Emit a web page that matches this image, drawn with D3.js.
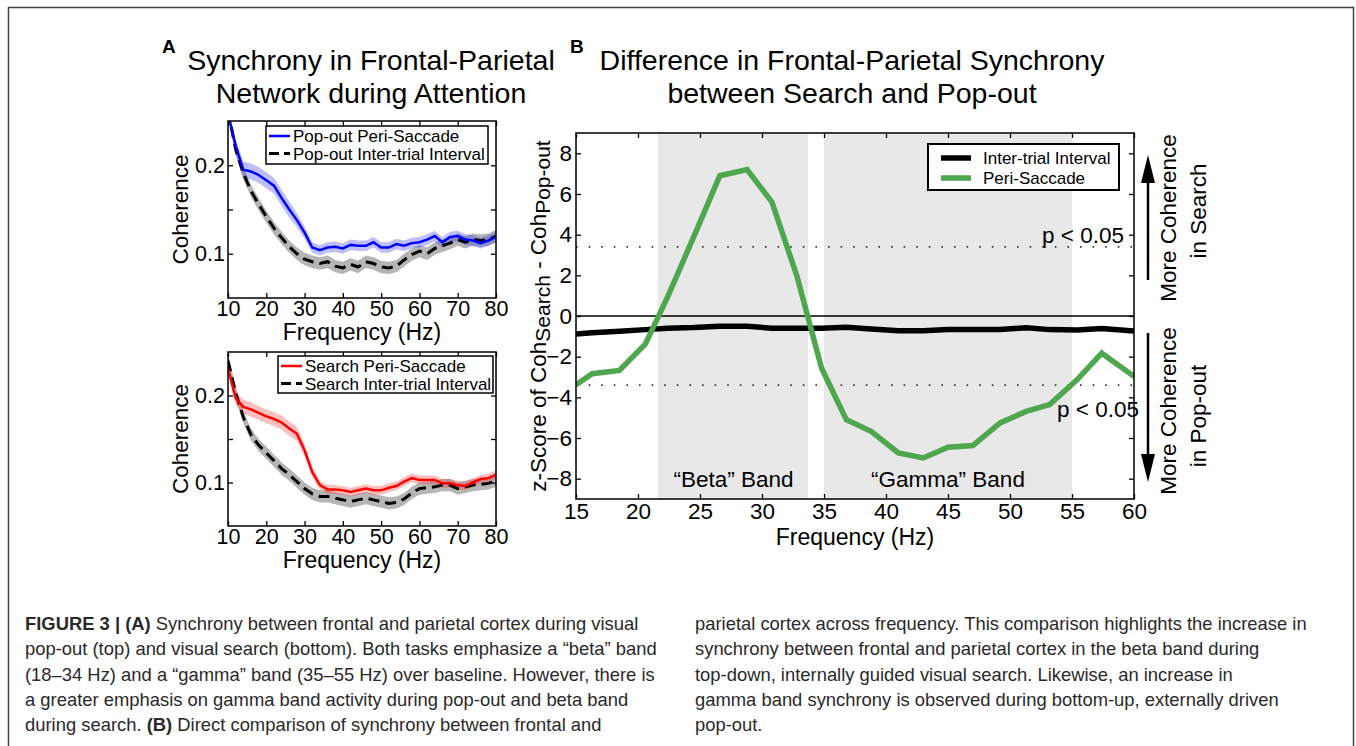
<!DOCTYPE html>
<html>
<head>
<meta charset="utf-8">
<script src="https://cdn.jsdelivr.net/npm/d3@7"></script>
<style>
  body { margin: 0; background: #fff; }
  svg text { font-family: "Liberation Sans", Arial, sans-serif; fill: #000; }
  .caption text { fill: #2b2829; }
</style>
</head>
<body>
<svg id="fig" width="1356" height="746"></svg>
<script>
// ---- panel A data (coherence vs frequency) ----
const freqA = [10, 12, 14, 16, 18, 20, 22, 24, 26, 28, 30, 32, 34, 36, 38, 40, 42, 44,
  46, 48, 50, 52, 54, 56, 58, 60, 62, 64, 66, 68, 70, 72, 74, 76, 78, 80];
const popPeri = [0.258, 0.222, 0.195, 0.193, 0.189, 0.183, 0.177, 0.163, 0.150, 0.138, 0.124, 0.107,
  0.104, 0.107, 0.108, 0.106, 0.110, 0.109, 0.109, 0.113, 0.107, 0.107, 0.111, 0.109,
  0.112, 0.113, 0.116, 0.120, 0.113, 0.119, 0.120, 0.116, 0.115, 0.112, 0.115, 0.119];
const popPeriErr = [0.006, 0.008, 0.009, 0.009, 0.009, 0.009, 0.009, 0.009, 0.009, 0.008, 0.007, 0.006,
  0.006, 0.006, 0.006, 0.006, 0.006, 0.006, 0.006, 0.006, 0.006, 0.006, 0.006, 0.006,
  0.006, 0.006, 0.006, 0.006, 0.006, 0.006, 0.006, 0.006, 0.006, 0.006, 0.006, 0.006];
const popIti = [0.262, 0.218, 0.191, 0.171, 0.156, 0.142, 0.129, 0.118, 0.108, 0.100, 0.094, 0.091,
  0.089, 0.091, 0.086, 0.084, 0.088, 0.085, 0.091, 0.089, 0.085, 0.084, 0.086, 0.093,
  0.099, 0.103, 0.100, 0.106, 0.109, 0.112, 0.116, 0.113, 0.116, 0.115, 0.116, 0.120];
const popItiErr = [0.007, 0.007, 0.007, 0.007, 0.007, 0.007, 0.007, 0.007, 0.007, 0.007, 0.007, 0.007,
  0.007, 0.007, 0.007, 0.007, 0.007, 0.007, 0.007, 0.007, 0.007, 0.007, 0.007, 0.007,
  0.007, 0.007, 0.007, 0.007, 0.007, 0.007, 0.007, 0.007, 0.007, 0.007, 0.007, 0.007];
const searchPeri = [0.231, 0.197, 0.187, 0.184, 0.180, 0.176, 0.173, 0.169, 0.162, 0.156, 0.137, 0.112,
  0.097, 0.092, 0.092, 0.091, 0.089, 0.091, 0.093, 0.091, 0.091, 0.094, 0.096, 0.101,
  0.105, 0.103, 0.103, 0.103, 0.099, 0.099, 0.097, 0.096, 0.100, 0.104, 0.105, 0.109];
const searchPeriErr = [0.006, 0.008, 0.008, 0.008, 0.008, 0.008, 0.008, 0.008, 0.008, 0.008, 0.007, 0.006,
  0.005, 0.005, 0.005, 0.005, 0.005, 0.005, 0.005, 0.005, 0.005, 0.005, 0.005, 0.005,
  0.005, 0.005, 0.005, 0.005, 0.005, 0.005, 0.005, 0.005, 0.005, 0.005, 0.005, 0.005];
const searchIti = [0.240, 0.203, 0.175, 0.155, 0.143, 0.134, 0.125, 0.116, 0.109, 0.101, 0.093, 0.087,
  0.084, 0.084, 0.082, 0.080, 0.078, 0.080, 0.082, 0.080, 0.078, 0.076, 0.077, 0.081,
  0.088, 0.093, 0.094, 0.095, 0.097, 0.097, 0.093, 0.095, 0.097, 0.098, 0.099, 0.102];
const searchItiErr = [0.007, 0.007, 0.007, 0.007, 0.007, 0.007, 0.007, 0.007, 0.007, 0.007, 0.007, 0.007,
  0.007, 0.007, 0.007, 0.007, 0.007, 0.007, 0.007, 0.007, 0.007, 0.007, 0.007, 0.007,
  0.007, 0.007, 0.007, 0.007, 0.007, 0.007, 0.007, 0.007, 0.007, 0.007, 0.007, 0.007];
const ticksA = [10, 20, 30, 40, 50, 60, 70, 80];
const yTicksA = [0.1, 0.15, 0.2];

// ---- panel B data (z-score of difference) ----
const freqB = [15, 16.3, 18.5, 20.6, 22.4, 24.5, 26.6, 28.8, 30.8, 32.8, 34.8, 36.8,
  38.8, 41, 43, 45, 47, 49.2, 51.3, 53.2, 55.4, 57.4, 60];
const zIti = [-0.88, -0.82, -0.75, -0.67, -0.60, -0.57, -0.50, -0.50, -0.60, -0.60, -0.60, -0.55,
  -0.64, -0.72, -0.72, -0.66, -0.66, -0.66, -0.58, -0.67, -0.69, -0.62, -0.74];
const zPeri = [-3.38, -2.84, -2.68, -1.37, 0.95, 3.9, 6.9, 7.2, 5.6, 2.0, -2.56, -5.1,
  -5.67, -6.73, -6.98, -6.45, -6.37, -5.26, -4.69, -4.36, -3.14, -1.83, -2.97];
const betaBand = [21.6, 33.7];
const gammaBand = [35, 55];
const pThreshold = 3.4;
const ticksBx = [15, 20, 25, 30, 35, 40, 45, 50, 55, 60];
const ticksBy = [-8, -6, -4, -2, 0, 2, 4, 6, 8];

const svg = d3.select('#fig');
svg.append('rect').attr('width', 1356).attr('height', 746).attr('fill', '#fff');

// frame round the figure
svg.append('rect')
  .attr('x', 8.5).attr('y', 7.5)
  .attr('width', 1345).attr('height', 760)
  .attr('fill', 'none').attr('stroke', '#444').attr('stroke-width', 1.5);

// draws ticks pointing inward on all four sides plus the box
const boxAxes = (g, x, y, box, xt, yt, yfmt, fs, pad) => {
  g.append('g')
    .attr('transform', `translate(0,${box.bottom})`)
    .call(d3.axisBottom(x).tickValues(xt).tickSizeInner(-5).tickSizeOuter(0).tickPadding(pad.x))
    .call((s) => s.selectAll('text').attr('font-size', fs).attr('fill', '#000'));
  g.append('g')
    .attr('transform', `translate(0,${box.top})`)
    .call(d3.axisTop(x).tickValues(xt).tickSizeInner(-5).tickSizeOuter(0).tickFormat(''));
  g.append('g')
    .attr('transform', `translate(${box.left},0)`)
    .call(d3.axisLeft(y).tickValues(yt).tickSizeInner(-5).tickSizeOuter(0).tickPadding(pad.y).tickFormat(yfmt))
    .call((s) => s.selectAll('text').attr('font-size', fs).attr('fill', '#000'));
  g.append('g')
    .attr('transform', `translate(${box.right},0)`)
    .call(d3.axisRight(y).tickValues(yt).tickSizeInner(-5).tickSizeOuter(0).tickFormat(''));
  g.selectAll('.domain').remove();
  g.selectAll('.tick line').attr('stroke', '#000').attr('stroke-width', 1.3);
  g.selectAll('.tick text').attr('font-family', '"Liberation Sans", Arial, sans-serif');
  g.append('rect')
    .attr('x', box.left).attr('y', box.top)
    .attr('width', box.right - box.left).attr('height', box.bottom - box.top)
    .attr('fill', 'none').attr('stroke', '#000').attr('stroke-width', 1.5);
};

// ---- panel A ----
const coherencePanel = (id, box, peri, periErr, iti, itiErr, color, shade, labels, leg) => {
  const x = d3.scaleLinear().domain([10, 80]).range([box.left, box.right]);
  const y = d3.scaleLinear().domain([0.05, 0.25]).range([box.bottom, box.top]);
  const g = svg.append('g');

  g.append('clipPath').attr('id', id)
    .append('rect')
    .attr('x', box.left).attr('y', box.top)
    .attr('width', box.right - box.left).attr('height', box.bottom - box.top);
  const plot = g.append('g').attr('clip-path', `url(#${id})`);

  const area = (vals, err) => d3.area()
    .x((d, i) => x(freqA[i]))
    .y0((d, i) => y(vals[i] - err[i]))
    .y1((d, i) => y(vals[i] + err[i]))(vals);
  const line = d3.line().x((d, i) => x(freqA[i])).y((d) => y(d));

  plot.append('path').attr('d', area(iti, itiErr)).attr('fill', '#b5b5b5');
  plot.append('path').attr('d', area(peri, periErr)).attr('fill', shade);
  plot.append('path').attr('d', line(iti))
    .attr('fill', 'none').attr('stroke', '#000').attr('stroke-width', 3)
    .attr('stroke-dasharray', '11 6');
  plot.append('path').attr('d', line(peri))
    .attr('fill', 'none').attr('stroke', color).attr('stroke-width', 2.5);

  boxAxes(g, x, y, box, ticksA, yTicksA,
    (d) => (d === 0.15 ? '' : d3.format('.1f')(d)), 21.5, { x: 3, y: 3 });

  // legend
  g.append('rect')
    .attr('x', leg.x).attr('y', leg.y).attr('width', leg.w).attr('height', leg.h)
    .attr('fill', '#fff').attr('stroke', '#000').attr('stroke-width', 1.5);
  [[color, null], ['#000', '10 5']].forEach(([c, dash], i) => {
    const ly = leg.y + 10 + i * 17.5;
    g.append('line')
      .attr('x1', leg.x + 3).attr('x2', leg.x + 24).attr('y1', ly).attr('y2', ly)
      .attr('stroke', c).attr('stroke-width', i ? 3 : 2.5)
      .attr('stroke-dasharray', dash);
    g.append('text')
      .attr('x', leg.x + 27).attr('y', ly + 6)
      .attr('font-size', 17)
      .text(labels[i]);
  });

  g.append('text')
    .attr('transform', `translate(188,${(box.top + box.bottom) / 2}) rotate(-90)`)
    .attr('text-anchor', 'middle').attr('font-size', 22.5)
    .text('Coherence');
  g.append('text')
    .attr('x', 362).attr('y', box.bottom + 42)
    .attr('text-anchor', 'middle').attr('font-size', 23)
    .text('Frequency (Hz)');
};

coherencePanel('clipA1', { left: 228, right: 496, top: 121, bottom: 298 },
  popPeri, popPeriErr, popIti, popItiErr, '#0000ff', 'rgba(40,40,255,0.3)',
  ['Pop-out Peri-Saccade', 'Pop-out Inter-trial Interval'],
  { x: 266, y: 126, w: 222, h: 38 });

coherencePanel('clipA2', { left: 228, right: 496, top: 352, bottom: 526 },
  searchPeri, searchPeriErr, searchIti, searchItiErr, '#ff0000', 'rgba(255,40,40,0.3)',
  ['Search Peri-Saccade', 'Search Inter-trial Interval'],
  { x: 278, y: 356, w: 215, h: 37 });

// panel A title
svg.append('text').attr('x', 162).attr('y', 53)
  .attr('font-size', 19).attr('font-weight', 'bold').text('A');
svg.append('text').attr('x', 371).attr('y', 70)
  .attr('text-anchor', 'middle').attr('font-size', 28.5)
  .text('Synchrony in Frontal-Parietal');
svg.append('text').attr('x', 371).attr('y', 103)
  .attr('text-anchor', 'middle').attr('font-size', 28.5)
  .text('Network during Attention');

// ---- panel B ----
const boxB = { left: 576, right: 1134, top: 133, bottom: 499 };
const xB = d3.scaleLinear().domain([15, 60]).range([boxB.left, boxB.right]);
const yB = d3.scaleLinear().domain([-9, 9]).range([boxB.bottom, boxB.top]);
const gB = svg.append('g');

gB.append('clipPath').attr('id', 'clipB')
  .append('rect')
  .attr('x', boxB.left).attr('y', boxB.top)
  .attr('width', boxB.right - boxB.left).attr('height', boxB.bottom - boxB.top);
const plotB = gB.append('g').attr('clip-path', 'url(#clipB)');

[betaBand, gammaBand].forEach((b) => {
  plotB.append('rect')
    .attr('x', xB(b[0])).attr('y', boxB.top)
    .attr('width', xB(b[1]) - xB(b[0])).attr('height', boxB.bottom - boxB.top)
    .attr('fill', '#e8e8e8');
});

[pThreshold, -pThreshold].forEach((t) => {
  plotB.append('line')
    .attr('x1', boxB.left).attr('x2', boxB.right)
    .attr('y1', yB(t)).attr('y2', yB(t))
    .attr('stroke', '#333').attr('stroke-width', 1.6)
    .attr('stroke-dasharray', '1.6 11');
});

plotB.append('line')
  .attr('x1', boxB.left).attr('x2', boxB.right)
  .attr('y1', yB(0)).attr('y2', yB(0))
  .attr('stroke', '#000').attr('stroke-width', 1.5);

const lineB = d3.line().x((d, i) => xB(freqB[i])).y((d) => yB(d));
plotB.append('path').attr('d', lineB(zIti))
  .attr('fill', 'none').attr('stroke', '#000').attr('stroke-width', 5.5)
  .attr('stroke-linejoin', 'round');
plotB.append('path').attr('d', lineB(zPeri))
  .attr('fill', 'none').attr('stroke', '#4ea64e').attr('stroke-width', 5.5)
  .attr('stroke-linejoin', 'miter');

boxAxes(gB, xB, yB, boxB, ticksBx, ticksBy, d3.format('d'), 22.5, { x: 4, y: 4 });

// band labels
gB.append('text').attr('x', xB(27.7)).attr('y', 487)
  .attr('text-anchor', 'middle').attr('font-size', 22.5).text('\u201cBeta\u201d Band');
gB.append('text').attr('x', xB(45)).attr('y', 487)
  .attr('text-anchor', 'middle').attr('font-size', 22.5).text('\u201cGamma\u201d Band');

// significance labels
gB.append('text').attr('x', 1124).attr('y', 243)
  .attr('text-anchor', 'end').attr('font-size', 22.5).text('p < 0.05');
gB.append('text').attr('x', 1139).attr('y', 417)
  .attr('text-anchor', 'end').attr('font-size', 22.5).text('p < 0.05');

// legend
gB.append('rect')
  .attr('x', 928).attr('y', 144).attr('width', 191).attr('height', 46)
  .attr('fill', '#fff').attr('stroke', '#000').attr('stroke-width', 2);
[['#000', 'Inter-trial Interval'], ['#4ea64e', 'Peri-Saccade']].forEach(([c, t], i) => {
  const ly = 158 + i * 20;
  gB.append('line')
    .attr('x1', 941).attr('x2', 971).attr('y1', ly).attr('y2', ly)
    .attr('stroke', c).attr('stroke-width', 5.5);
  gB.append('text').attr('x', 983).attr('y', ly + 6)
    .attr('font-size', 17).text(t);
});

// axis titles
gB.append('text').attr('x', 855).attr('y', 545)
  .attr('text-anchor', 'middle').attr('font-size', 23).text('Frequency (Hz)');
const yTitle = gB.append('text')
  .attr('transform', `translate(546,${(boxB.top + boxB.bottom) / 2}) rotate(-90)`)
  .attr('text-anchor', 'middle').attr('font-size', 22.5);
yTitle.append('tspan').text('z-Score of Coh');
yTitle.append('tspan').attr('dy', 4).attr('font-size', 21).text('Search');
yTitle.append('tspan').attr('dy', -4).text(' - Coh');
yTitle.append('tspan').attr('dy', 4).attr('font-size', 21).text('Pop-out');

// direction arrows on the right
const arrow = (x0, yFrom, yTip) => {
  const dir = yTip < yFrom ? 1 : -1;
  const yBase = yTip + dir * 28;
  svg.append('line')
    .attr('x1', x0).attr('x2', x0).attr('y1', yFrom).attr('y2', yBase)
    .attr('stroke', '#000').attr('stroke-width', 2.5);
  svg.append('path')
    .attr('d', `M${x0},${yTip}L${x0 - 7},${yBase}L${x0 + 7},${yBase}Z`)
    .attr('fill', '#000');
};
arrow(1148, 280, 155);
arrow(1148, 333, 482);

const sideText = (x0, yc, t) => {
  svg.append('text')
    .attr('transform', `translate(${x0},${yc}) rotate(-90)`)
    .attr('text-anchor', 'middle').attr('font-size', 22.5).text(t);
};
sideText(1176, 218, 'More Coherence');
sideText(1206, 211, 'in Search');
sideText(1176, 411, 'More Coherence');
sideText(1206, 416, 'in Pop-out');

// panel B title
svg.append('text').attr('x', 570).attr('y', 53)
  .attr('font-size', 19).attr('font-weight', 'bold').text('B');
svg.append('text').attr('x', 852).attr('y', 70)
  .attr('text-anchor', 'middle').attr('font-size', 28.5)
  .text('Difference in Frontal-Parietal Synchrony');
svg.append('text').attr('x', 852).attr('y', 103)
  .attr('text-anchor', 'middle').attr('font-size', 28.5)
  .text('between Search and Pop-out');

// ---- caption ----
const captionLeft = [
  [['FIGURE 3 | (A)', true], [' Synchrony between frontal and parietal cortex during visual', false]],
  [['pop-out (top) and visual search (bottom). Both tasks emphasize a \u201cbeta\u201d band', false]],
  [['(18\u201334 Hz) and a \u201cgamma\u201d band (35\u201355 Hz) over baseline. However, there is', false]],
  [['a greater emphasis on gamma band activity during pop-out and beta band', false]],
  [['during search. ', false], ['(B)', true], [' Direct comparison of synchrony between frontal and', false]],
];
const captionRight = [
  'parietal cortex across frequency. This comparison highlights the increase in',
  'synchrony between frontal and parietal cortex in the beta band during',
  'top-down, internally guided visual search. Likewise, an increase in',
  'gamma band synchrony is observed during bottom-up, externally driven',
  'pop-out.',
];
const cap = svg.append('g').attr('class', 'caption');
captionLeft.forEach((parts, i) => {
  const t = cap.append('text').attr('x', 25).attr('y', 630 + i * 25.3).attr('font-size', 18.4);
  parts.forEach(([s, bold]) => {
    t.append('tspan').attr('font-weight', bold ? 'bold' : 'normal').text(s);
  });
});
captionRight.forEach((s, i) => {
  cap.append('text').attr('x', 695).attr('y', 630 + i * 25.3).attr('font-size', 18.4).text(s);
});
</script>
</body>
</html>
